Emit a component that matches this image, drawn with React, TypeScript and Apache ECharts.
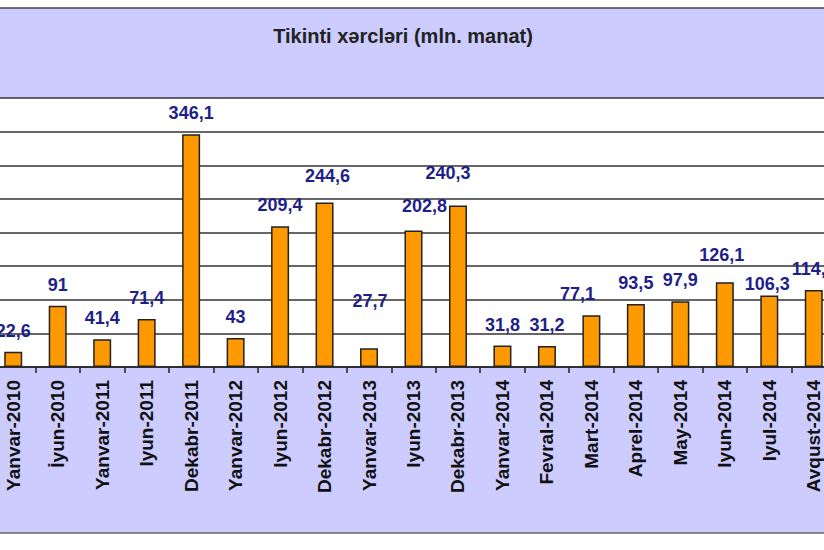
import { useEffect, useRef } from 'react'
import * as echarts from 'echarts'

const categories = [
  'Yanvar-2010', 'İyun-2010', 'Yanvar-2011', 'Iyun-2011', 'Dekabr-2011',
  'Yanvar-2012', 'Iyun-2012', 'Dekabr-2012', 'Yanvar-2013', 'Iyun-2013',
  'Dekabr-2013', 'Yanvar-2014', 'Fevral-2014', 'Mart-2014', 'Aprel-2014',
  'May-2014', 'Iyun-2014', 'Iyul-2014', 'Avqust-2014'
]

const values = [
  22.6, 91, 41.4, 71.4, 346.1,
  43, 209.4, 244.6, 27.7, 202.8,
  240.3, 31.8, 31.2, 77.1, 93.5,
  97.9, 126.1, 106.3, 114.4
]

// hand-placed labels in the original (index -> [dx, dy])
const labelShift: Record<number, [number, number]> = {
  7: [3, -6],
  9: [11, -4],
  10: [-10, -11],
  8: [1, -26],
  13: [-14, 0],
  16: [-3, -6],
  17: [-2, 9]
}

const TITLE = 'Tikinti xərcləri (mln. manat)'

// the original picture is cropped: the plot starts a bit left of the page
const SHIFT = 9
const CW = 845

export default function App() {
  const chartRef = useRef<HTMLDivElement>(null)

  useEffect(() => {
    if (!chartRef.current) return
    const chart = echarts.init(chartRef.current, null, { renderer: 'svg' })

    const option = {
      animation: false,
      backgroundColor: '#ffffff',
      graphic: [
        {
          type: 'rect',
          z: -10,
          shape: { x: 0, y: 8, width: CW, height: 90 },
          style: { fill: '#CCCCFF', stroke: 'none' }
        },
        {
          type: 'line',
          z: -9,
          shape: { x1: 0, y1: 8, x2: CW, y2: 8 },
          style: { stroke: '#444', lineWidth: 1.5 }
        },
        {
          type: 'rect',
          z: -10,
          shape: { x: 0, y: 367, width: CW, height: 166 },
          style: { fill: '#CCCCFF', stroke: 'none' }
        },
        {
          type: 'line',
          z: -9,
          shape: { x1: 0, y1: 533, x2: CW, y2: 533 },
          style: { stroke: '#666', lineWidth: 1.5 }
        },
        {
          type: 'text',
          x: 403 + SHIFT,
          y: 36,
          style: {
            text: TITLE,
            fill: '#222',
            font: 'bold 20px "Liberation Sans", Arial, sans-serif',
            align: 'center',
            verticalAlign: 'middle'
          }
        }
      ],
      grid: {
        left: 0,
        right: 0,
        top: 98,
        bottom: 183,
        containLabel: false
      },
      xAxis: {
        type: 'category',
        data: categories,
        axisLine: { lineStyle: { color: '#222', width: 1.5 } },
        axisTick: {
          show: true,
          interval: 0,
          length: 6,
          lineStyle: { color: '#222', width: 1.5 }
        },
        axisLabel: {
          interval: 0,
          rotate: 90,
          margin: 13,
          color: '#111',
          fontSize: 19,
          fontWeight: 'bold',
          fontFamily: '"Liberation Sans", Arial, sans-serif'
        }
      },
      yAxis: {
        type: 'value',
        min: 0,
        max: 400,
        interval: 50,
        axisLine: { show: false },
        axisTick: { show: false },
        axisLabel: { show: false },
        splitLine: { lineStyle: { color: '#333', width: 1.5 } }
      },
      series: [
        {
          type: 'bar',
          barWidth: 18,
          data: values.map((v, i) => {
            const s = labelShift[i]
            return s ? { value: v, label: { offset: s } } : v
          }),
          itemStyle: {
            color: '#FF9900',
            borderColor: '#222',
            borderWidth: 1.5
          },
          label: {
            show: true,
            position: 'top',
            distance: 12,
            color: '#1F1F8A',
            fontSize: 18,
            fontWeight: 'bold',
            fontFamily: '"Liberation Sans", Arial, sans-serif',
            formatter: (p: any) => String(p.value).replace('.', ',')
          }
        }
      ]
    }

    chart.setOption(option)

    return () => {
      chart.dispose()
    }
  }, [])

  return (
    <div
      style={{
        position: 'fixed',
        left: 0,
        top: 0,
        width: 824,
        height: 550,
        overflow: 'hidden',
        background: '#fff'
      }}
    >
      <div
        ref={chartRef}
        style={{ position: 'absolute', left: -SHIFT, top: 0, width: CW, height: 550 }}
      />
    </div>
  )
}
